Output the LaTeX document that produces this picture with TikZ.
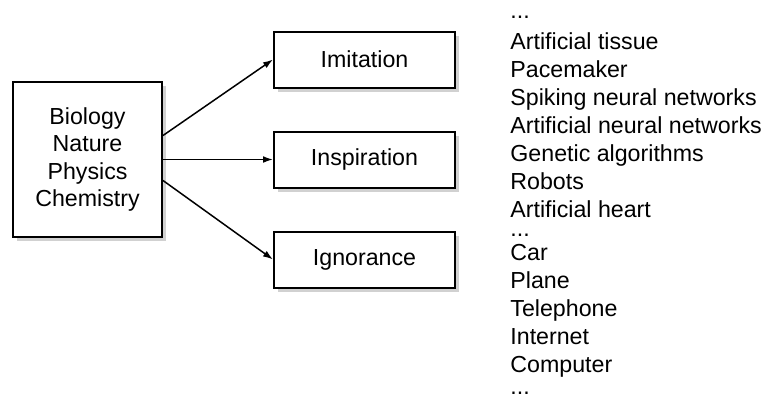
\documentclass[tikz,border=0pt]{standalone}
\usepackage{fontspec}
\setmainfont{Liberation Sans}
\usetikzlibrary{arrows.meta,positioning,shadows}
\tikzset{box/.style={draw,line width=1pt,fill=white,align=center,inner sep=0pt,minimum width=90.5pt,minimum height=28pt,drop shadow={shadow xshift=2pt,shadow yshift=-2pt,fill=black!18,opacity=1}},srcbox/.style={box,minimum width=74.5pt,minimum height=77.5pt},arrow/.style={-{Latex[length=5pt,width=3.4pt]},line width=0.75pt},txt/.style={font=\fontsize{11.6}{13.75}\selectfont}}

\begin{document}
\begin{tikzpicture}[x=0.5pt,y=-0.5pt,txt]
\useasboundingbox (0,0) rectangle (767,398);
\node[srcbox] (bio) at (87.5,159.5) {Biology\\Nature\\Physics\\Chemistry};
\node[box,right=55pt of bio] (insp) {Inspiration};
\node[box,above=21pt of insp] (imit) {Imitation};
\node[box,below=21pt of insp] (ign) {Ignorance};
\node[align=left,anchor=south west,inner sep=0pt,font=\fontsize{11.6}{14}\selectfont] (list) at (510,395) {...\\[1.5pt]Artificial tissue\\Pacemaker\\Spiking neural networks\\Artificial neural networks\\Genetic algorithms\\Robots\\Artificial heart\\[-4.3pt]...\\[-2pt]Car\\Plane\\Telephone\\Internet\\Computer\\[-3pt]...};
\draw[arrow] ([yshift=12pt]bio.east) -- (imit.west); \draw[arrow] (bio.east) -- (insp.west); \draw[arrow] ([yshift=-10.5pt]bio.east) -- (ign.west);
\end{tikzpicture}
\end{document}
